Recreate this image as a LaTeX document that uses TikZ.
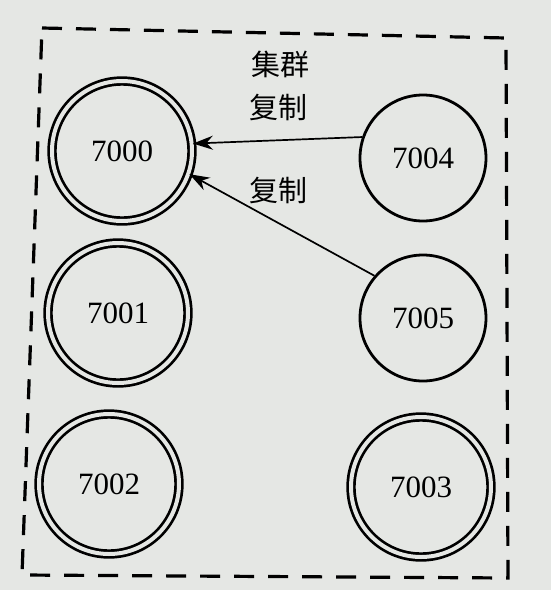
\documentclass[tikz,border=0pt]{standalone}
\usepackage{fontspec}
\setmainfont{Liberation Serif}
\newfontfamily\cjk{Noto Sans CJK SC}
\usetikzlibrary{arrows.meta}
\definecolor{paper}{RGB}{229,231,228}
\tikzset{mroot/.style={circle,draw,double=paper,line width=2.7pt,double distance=4pt,inner sep=0pt,minimum size=140pt,font=\fontsize{31}{36}\selectfont},
	 sroot/.style={circle,draw,line width=2.8pt,inner sep=0pt,minimum size=126pt,font=\fontsize{31}{36}\selectfont},
	 rlabel/.style={font=\cjk\fontsize{29}{34}\selectfont,inner sep=0pt},
	 repl/.style={-{Stealth[length=20pt,width=14pt]},line width=1.7pt}
	 }
\begin{document}
\begin{tikzpicture}[x=1pt,y=-1pt] % cluster with replicas
	\fill[paper] (0,0) rectangle (551,590);
	\useasboundingbox (0,0) rectangle (551,590);
	\draw[line width=3.2pt,dash pattern=on 20pt off 14pt] (42,28) -- (506,38) -- (508,578) -- (22,575) -- cycle;
        \node[mroot] (m0) at (122,151) {7000};
        \node[mroot] (m1) at (118,313) {7001};
        \node[mroot] (m2) at (109,484) {7002};
        \node[mroot] (m3) at (421,487) {7003};
        \node[sroot] (s4) at (423,158) {7004};
        \node[sroot] (s5) at (423,318) {7005};
        \node[rlabel] (t0) at (280,64) {集群};
        \node[rlabel] (t1) at (278,107) {复制};
        \node[rlabel] (t2) at (278,190) {复制};
	\draw[repl] (s4.161) to (m0.6);
	\draw[repl] (s5.139) to (m0.-19);
     \end{tikzpicture}
\end{document}
